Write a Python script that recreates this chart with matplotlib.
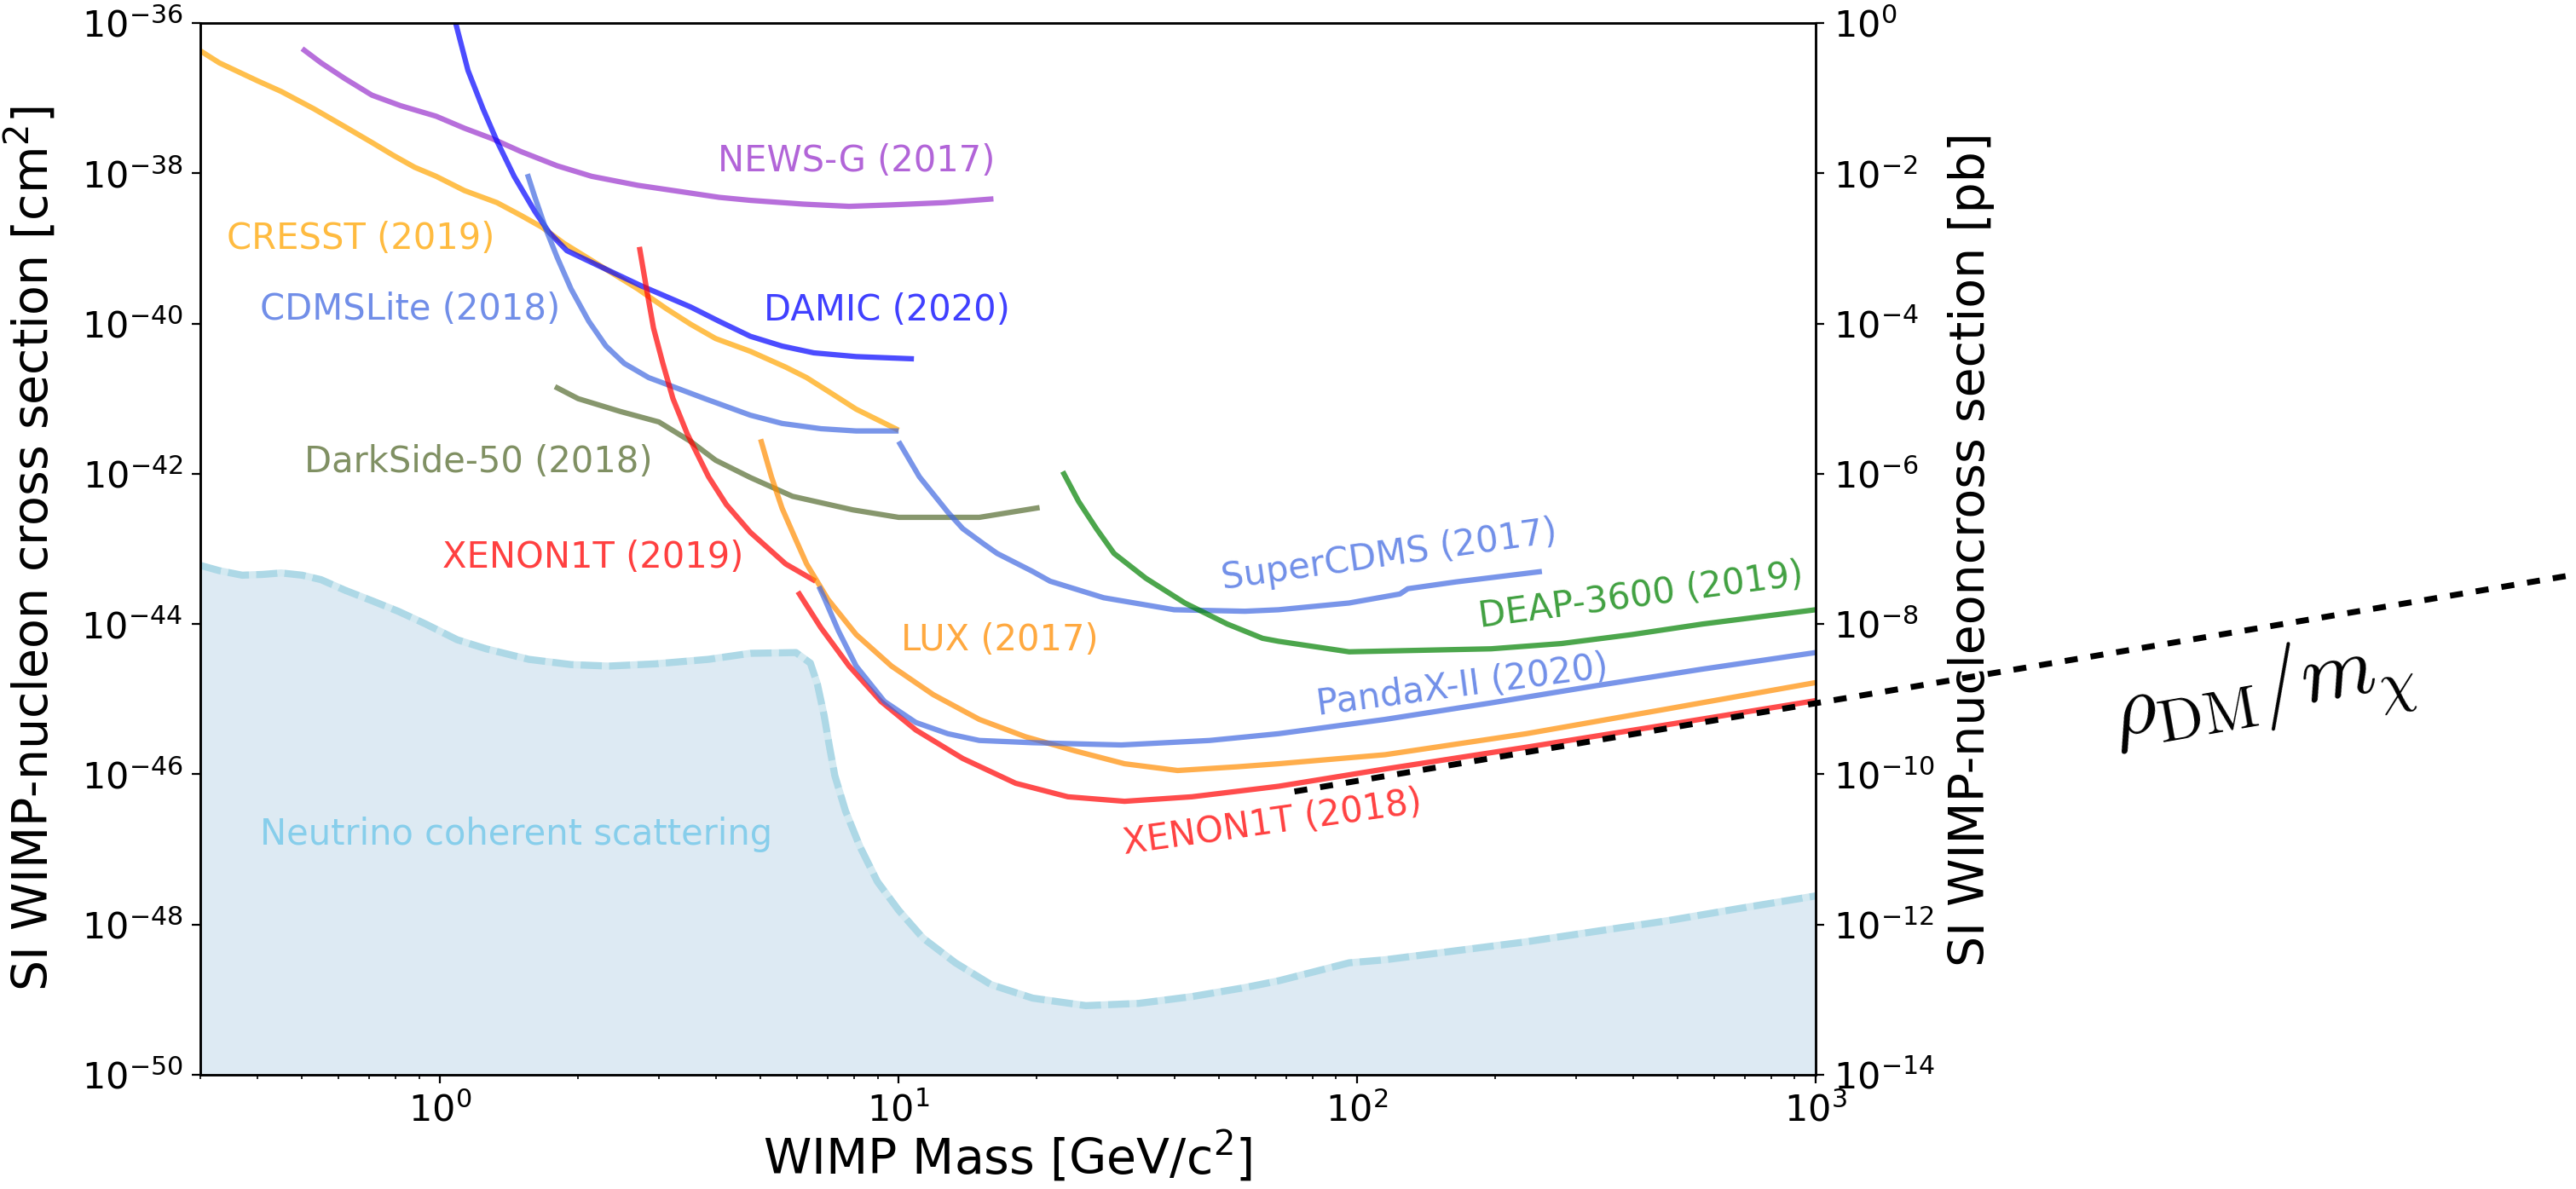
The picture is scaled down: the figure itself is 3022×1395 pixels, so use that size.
import numpy as np
import matplotlib
matplotlib.use("Agg")
import matplotlib.pyplot as plt

# WIMP mass [GeV/c^2] and log10 of the SI cross section [cm^2]
cresst_m = [0.30, 0.33, 0.40, 0.45, 0.53, 0.62, 0.71, 0.79, 0.88, 0.98, 1.13, 1.33, 1.50, 1.67,
            1.86, 2.18, 2.70, 3.11, 3.52, 3.99, 4.75, 5.67, 6.30, 7.14, 8.08, 8.99, 10.0]
cresst_s = [-36.37, -36.53, -36.77, -36.91, -37.14, -37.38, -37.59, -37.76, -37.92, -38.04, -38.23,
            -38.39, -38.56, -38.72, -38.93, -39.19, -39.54, -39.80, -40.01, -40.20, -40.37, -40.58,
            -40.72, -40.93, -41.14, -41.28, -41.42]

newsg_m = [0.50, 0.55, 0.62, 0.71, 0.82, 0.98, 1.13, 1.30, 1.50, 1.80, 2.14, 2.70, 3.40, 4.06,
           4.75, 6.19, 7.80, 9.65, 12.6, 16.1]
newsg_s = [-36.34, -36.53, -36.74, -36.96, -37.10, -37.24, -37.40, -37.54, -37.71, -37.90, -38.04,
           -38.16, -38.25, -38.32, -38.36, -38.41, -38.44, -38.42, -38.39, -38.34]

damic_m = [1.06, 1.08, 1.15, 1.24, 1.33, 1.45, 1.61, 1.73, 1.89, 2.18, 2.75, 3.52, 4.06, 4.75,
           5.57, 6.53, 8.08, 10.8]
damic_s = [-35.80, -35.99, -36.63, -37.14, -37.57, -38.04, -38.51, -38.79, -39.03, -39.21, -39.50,
           -39.78, -39.97, -40.17, -40.30, -40.39, -40.44, -40.47]

cdmslite_m = [1.55, 1.61, 1.70, 1.80, 1.93, 2.11, 2.30, 2.52, 2.85, 3.22, 3.78, 4.75, 5.57, 6.77,
              8.08, 10.0]
cdmslite_s = [-38.01, -38.32, -38.74, -39.12, -39.54, -39.97, -40.30, -40.53, -40.72, -40.84, -41.00,
              -41.22, -41.33, -41.40, -41.43, -41.43]

darkside_m = [1.78, 2.00, 2.47, 3.00, 3.52, 3.99, 4.75, 5.87, 7.94, 10.0, 15.0, 20.3]
darkside_s = [-40.84, -41.00, -41.17, -41.31, -41.57, -41.82, -42.05, -42.30, -42.48, -42.58, -42.58,
              -42.45]

xe2019_m = [2.72, 2.82, 2.92, 3.06, 3.22, 3.46, 3.85, 4.21, 4.75, 5.67, 6.59]
xe2019_s = [-38.98, -39.54, -40.06, -40.53, -41.00, -41.47, -42.04, -42.41, -42.78, -43.20, -43.43]

xe2018_m = [6.03, 6.77, 7.80, 9.15, 10.9, 13.8, 18.0, 23.4, 31.1, 43.6, 67.4, 115, 234, 475, 1000]
xe2018_s = [-43.57, -44.05, -44.56, -45.03, -45.41, -45.79, -46.12, -46.30, -46.36, -46.30, -46.16,
            -45.93, -45.64, -45.34, -45.02]

lux_m = [5.00, 5.28, 5.57, 5.97, 6.30, 7.01, 8.08, 9.65, 11.9, 15.0, 18.9, 24.3, 31.1, 40.6, 54.9,
         67.4, 115, 234, 475, 1000]
lux_s = [-41.54, -42.04, -42.46, -42.88, -43.20, -43.67, -44.14, -44.56, -44.94, -45.27, -45.50,
         -45.69, -45.86, -45.95, -45.90, -45.86, -45.74, -45.46, -45.13, -44.78]

pandax_m = [6.70, 6.88, 7.39, 8.08, 9.31, 10.9, 12.8, 15.0, 19.6, 30.6, 47.7, 67.4, 115, 196, 333,
            567, 1000]
pandax_s = [-43.50, -43.65, -44.09, -44.56, -45.03, -45.31, -45.46, -45.55, -45.58, -45.61, -45.55,
            -45.46, -45.27, -45.05, -44.82, -44.60, -44.38]

supercdms_m = [10.0, 11.1, 12.8, 13.8, 15.3, 16.4, 19.6, 21.4, 28.0, 39.9, 56.9, 67.4, 96.1, 124,
               129, 164, 253]
supercdms_s = [-41.57, -42.04, -42.51, -42.73, -42.93, -43.06, -43.30, -43.43, -43.65, -43.81, -43.83,
               -43.81, -43.72, -43.60, -43.53, -43.44, -43.30]

deap_m = [22.8, 24.7, 27.0, 29.5, 34.6, 42.1, 52.1, 62.2, 67.4, 80.5, 96.1, 137, 196, 279, 398,
          567, 1000]
deap_s = [-41.97, -42.37, -42.73, -43.06, -43.39, -43.72, -44.00, -44.19, -44.23, -44.30, -44.37,
          -44.35, -44.33, -44.26, -44.14, -44.00, -43.81]

nu_m = [0.30, 0.33, 0.37, 0.41, 0.45, 0.50, 0.55, 0.62, 0.71, 0.81, 0.93, 1.09, 1.26, 1.56, 1.93,
        2.33, 2.95, 3.85, 4.75, 5.97, 6.42, 6.65, 6.88, 7.07, 7.26, 7.66, 8.23, 8.99, 10.0, 11.3,
        13.3, 15.9, 19.6, 25.6, 33.4, 43.6, 56.9, 67.4, 80.5, 96.1, 115, 164, 234, 333, 475, 677,
        1000]
nu_s = [-43.22, -43.29, -43.35, -43.34, -43.32, -43.35, -43.41, -43.55, -43.69, -43.83, -44.00,
        -44.21, -44.33, -44.47, -44.54, -44.56, -44.53, -44.47, -44.39, -44.38, -44.52, -44.80,
        -45.22, -45.64, -46.02, -46.49, -46.96, -47.43, -47.81, -48.18, -48.51, -48.80, -48.98,
        -49.08, -49.05, -48.96, -48.84, -48.75, -48.63, -48.51, -48.47, -48.35, -48.23, -48.09,
        -47.95, -47.79, -47.62]

dm_m = [73, 45500]
dm_s = [-46.23, -43.34]

# (name, mass, log sigma, colour)
curves = [
    ("CRESST (2019)", cresst_m, cresst_s, "orange"),
    ("NEWS-G (2017)", newsg_m, newsg_s, "darkorchid"),
    ("DAMIC (2020)", damic_m, damic_s, "blue"),
    ("CDMSLite (2018)", cdmslite_m, cdmslite_s, "royalblue"),
    ("DarkSide-50 (2018)", darkside_m, darkside_s, "darkolivegreen"),
    ("XENON1T (2019)", xe2019_m, xe2019_s, "red"),
    ("XENON1T (2018)", xe2018_m, xe2018_s, "red"),
    ("LUX (2017)", lux_m, lux_s, "darkorange"),
    ("PandaX-II (2020)", pandax_m, pandax_s, "royalblue"),
    ("SuperCDMS (2017)", supercdms_m, supercdms_s, "royalblue"),
    ("DEAP-3600 (2019)", deap_m, deap_s, "green"),
]

# label placement: text, mass, log sigma, rotation, colour
labels = [
    ("NEWS-G (2017)", 4.03, -37.84, 0, "darkorchid"),
    ("CRESST (2019)", 0.343, -38.875, 0, "orange"),
    ("CDMSLite (2018)", 0.404, -39.816, 0, "royalblue"),
    ("DarkSide-50 (2018)", 0.505, -41.838, 0, "darkolivegreen"),
    ("XENON1T (2019)", 1.012, -43.117, 0, "red"),
    ("DAMIC (2020)", 5.08, -39.825, 0, "blue"),
    ("LUX (2017)", 10.14, -44.21, 0, "darkorange"),
]
rot_labels = [
    ("SuperCDMS (2017)", 117.6, -43.09, 8, "royalblue"),
    ("DEAP-3600 (2019)", 415.7, -43.62, 7.5, "green"),
    ("PandaX-II (2020)", 169.7, -44.82, 7.5, "royalblue"),
    ("XENON1T (2018)", 65.4, -46.65, 8, "red"),
]

fig = plt.figure(figsize=(30.22, 13.95), dpi=100)
ax = fig.add_axes([0.0778, 0.0961, 0.627, 0.8845])

# neutrino floor
nu_sig = 10.0 ** np.array(nu_s)
ax.fill_between(nu_m, 1e-50, nu_sig, color="C0", alpha=0.15, lw=0)
ax.plot(nu_m, nu_sig, color="lightblue", lw=6, dashes=(3, 1), gapcolor="#d3e9f1")

for name, m, s, c in curves:
    ax.plot(m, 10.0 ** np.array(s), color=c, alpha=0.7, lw=4.5, solid_capstyle="butt")

ax.plot(dm_m, 10.0 ** np.array(dm_s), color="black", lw=5, dashes=(2.2, 2.2),
        clip_on=False, zorder=5)

for txt, x, y, r, c in labels:
    ax.text(x, 10 ** y, txt, color=c, alpha=0.75, fontsize=30, ha="left", va="center")
for txt, x, y, r, c in rot_labels:
    ax.text(x, 10 ** y, txt, color=c, alpha=0.75, fontsize=30, ha="center", va="center",
            rotation=r, rotation_mode="anchor")

ax.text(0.404, 10 ** -46.80, "Neutrino coherent scattering", color="skyblue",
        fontsize=30, ha="left", va="center")
ax.text(9460, 10 ** -44.91, r"$\rho_{\rm DM}/m_\chi$", fontsize=72, math_fontfamily="cm",
        ha="center", va="center", rotation=10, rotation_mode="anchor")

ax.set_xscale("log")
ax.set_yscale("log")
ax.set_xlim(0.3, 1000)
ax.set_ylim(1e-50, 1e-36)
ax.set_xlabel(r"WIMP Mass [GeV/c$^2$]", fontsize=41)
ax.set_ylabel(r"SI WIMP-nucleon cross section [cm$^2$]", fontsize=41)
ax.xaxis.set_label_coords(0.5, -0.052)
ax.yaxis.set_label_coords(-0.088, 0.5)

ax2 = ax.twinx()
ax2.set_yscale("log")
ax2.set_ylim(1e-14, 1)
ax2.set_ylabel("SI WIMP-nucleoncross section [pb]", fontsize=41)
ax2.yaxis.set_label_coords(1.082, 0.5)

for a in (ax, ax2):
    a.tick_params(which="major", labelsize=31, length=7, width=1.6, pad=8)
    a.tick_params(which="minor", length=3.5, width=1.2)
    for sp in a.spines.values():
        sp.set_linewidth(1.8)

fig.savefig("out.png", dpi=100)
